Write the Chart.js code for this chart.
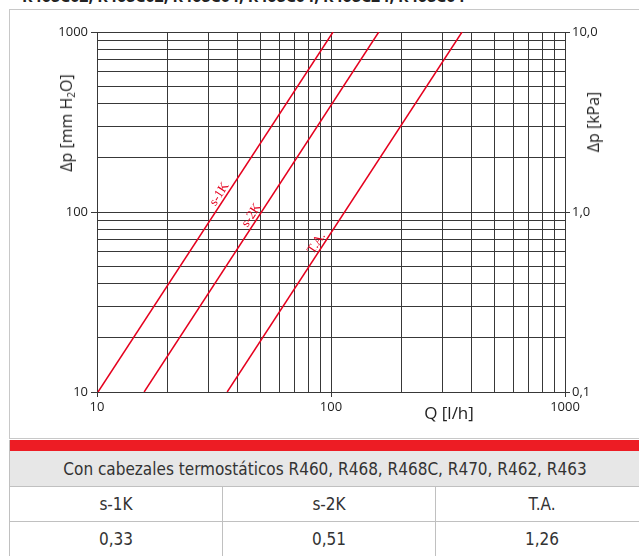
<!DOCTYPE html>
<html>
<head>
<meta charset="utf-8">
<script src="https://cdn.jsdelivr.net/npm/chart.js@4.4.1/dist/chart.umd.min.js"></script>
<style>
  html, body { margin:0; padding:0; background:#fff; }
  body { width:639px; height:556px; overflow:hidden; position:relative; font-family:"Open Sans", sans-serif; color:#222; }
  #topline { position:absolute; left:22px; top:-15px; font:bold 16px "Open Sans", sans-serif; white-space:nowrap; color:#222; }
  #box { position:absolute; left:9px; top:9px; width:640px; height:428px; border:1px solid #c8c8c8; border-right:none; background:transparent; }
  #wrap { position:absolute; left:0; top:0; width:639px; height:436px; }
  .ttl { position:absolute; font:16px "Open Sans", sans-serif; color:#222; white-space:nowrap; }
  #ytl { left:66px; top:123px; transform:translate(-50%,-50%) rotate(-90deg); }
  #ytr { left:593px; top:122px; transform:translate(-50%,-50%) rotate(-90deg); }
  #xt { left:449px; top:412px; transform:translate(-50%,-50%); font-size:17px; }
  sub { font-size:10px; vertical-align:-3px; line-height:0; }
  #tbl { position:absolute; left:9px; top:440px; width:640px; border-left:1px solid #c0c0c0; }
  #red { height:11px; background:#ed1c24; }
  .row { display:flex; border-bottom:1px solid #c0c0c0; font:17px "Liberation Sans Narrow","DejaVu Sans Condensed",sans-serif; color:#333; }
  .hdr { height:35px; background:#e7e7e7; justify-content:center; align-items:center; padding-right:10px; }
  .cell { width:212px; height:34px; display:flex; align-items:center; justify-content:center; border-right:1px solid #c0c0c0; }
</style>
</head>
<body>
<div id="topline">R468C02, R468C02, R468C04, R468C04, R468C24, R468C04</div>
<div id="box"></div>
<div id="wrap"><canvas id="c" width="639" height="436"></canvas></div>
<div class="ttl" id="ytl">Δp [mm H<sub>2</sub>O]</div>
<div class="ttl" id="ytr">Δp [kPa]</div>
<div class="ttl" id="xt">Q [l/h]</div>
<div id="tbl">
  <div id="red"></div>
  <div class="row hdr" id="hdr"></div>
  <div class="row" id="r1"></div>
  <div class="row" id="r2"></div>
</div>
<script>
// ---- data ----
const seriesNames = ['s-1K', 's-2K', 'T.A.'];
const flowS1K = [10.1, 102];
const flowS2K = [15.9, 160];
const flowTA  = [36, 363];
const pressure = [10, 1000];           // mm H2O, at the two ends of each line
const labelQ = [35.2, 48.3, 91.5];     // where the line labels sit (l/h)
const kvValues = ['0,33', '0,51', '1,26'];
const tableTitle = 'Con cabezales termostáticos R460, R468, R468C, R470, R462, R463';
const xTicks = [10,20,30,40,50,60,70,80,90,100,200,300,400,500,600,700,800,900,1000];
const yTicks = [10,20,30,40,50,60,70,80,90,100,200,300,400,500,600,700,800,900,1000];
const majorTicks = [10, 100, 1000];
const kpaTicks = [0.1, 1, 10];
const kpaLabels = ['0,1', '1,0', '10,0'];

const RED = '#e5001e';
const GRID = '#383838';

function pts(flow) { return flow.map((q, i) => ({ x: q, y: pressure[i] })); }

const lineLabels = {
  id: 'lineLabels',
  afterDatasetsDraw(chart) {
    const { ctx } = chart;
    const xs = chart.scales.x;
    chart.data.datasets.forEach((ds, i) => {
      const meta = chart.getDatasetMeta(i);
      const p0 = meta.data[0], p1 = meta.data[meta.data.length - 1];
      const px = xs.getPixelForValue(labelQ[i]);
      const t = (px - p0.x) / (p1.x - p0.x);
      const py = p0.y + t * (p1.y - p0.y);
      const ang = Math.atan2(p1.y - p0.y, p1.x - p0.x);
      ctx.save();
      ctx.translate(px, py);
      ctx.rotate(ang);
      ctx.font = '13px "Liberation Serif", serif';
      ctx.fillStyle = RED;
      ctx.textAlign = 'center';
      ctx.textBaseline = 'bottom';
      ctx.fillText(seriesNames[i], 0, 0);
      ctx.restore();
    });
  }
};

const isMajor = v => majorTicks.includes(v);

new Chart(document.getElementById('c'), {
  type: 'line',
  data: {
    datasets: [
      { label: seriesNames[0], data: pts(flowS1K) },
      { label: seriesNames[1], data: pts(flowS2K) },
      { label: seriesNames[2], data: pts(flowTA) }
    ].map(d => Object.assign(d, { borderColor: RED, borderWidth: 1.5, pointRadius: 0, fill: false, tension: 0 }))
  },
  options: {
    responsive: false,
    animation: false,
    devicePixelRatio: 1,
    layout: { padding: { top: 32, left: 0, right: 0, bottom: 0 } },
    plugins: { legend: { display: false }, tooltip: { enabled: false } },
    scales: {
      x: {
        type: 'logarithmic', min: 10, max: 1000,
        afterBuildTicks: s => { s.ticks = xTicks.map(v => ({ value: v, major: isMajor(v) })); },
        afterFit: s => { s.height = 44; },
        ticks: { autoSkip: false, maxRotation: 0, padding: 2, color: '#222', font: { family: 'Open Sans', size: 13 },
                 callback: v => isMajor(v) ? String(v) : '' },
        grid: { color: GRID, lineWidth: 1, tickLength: 5,
                tickColor: c => (c.tick && isMajor(c.tick.value)) ? GRID : 'rgba(0,0,0,0)' },
        border: { color: GRID, width: 1 }
      },
      y: {
        type: 'logarithmic', position: 'left', min: 10, max: 1000,
        afterBuildTicks: s => { s.ticks = yTicks.map(v => ({ value: v, major: isMajor(v) })); },
        afterFit: s => { s.width = 97; },
        ticks: { autoSkip: false, padding: 3, color: '#222', font: { family: 'Open Sans', size: 13 },
                 callback: v => isMajor(v) ? String(v) : '' },
        grid: { color: GRID, lineWidth: 1, tickLength: 6,
                tickColor: c => (c.tick && isMajor(c.tick.value)) ? GRID : 'rgba(0,0,0,0)' },
        border: { color: GRID, width: 1 }
      },
      y2: {
        type: 'logarithmic', position: 'right', min: 0.1, max: 10,
        afterBuildTicks: s => { s.ticks = kpaTicks.map(v => ({ value: v, major: true })); },
        afterFit: s => { s.width = 74; },
        ticks: { autoSkip: false, padding: 2, color: '#222', font: { family: 'Open Sans', size: 13 },
                 callback: (v, i) => kpaLabels[kpaTicks.indexOf(v)] ?? '' },
        grid: { drawOnChartArea: false, color: GRID, tickLength: 5, tickColor: GRID },
        border: { color: GRID, width: 1 }
      }
    }
  },
  plugins: [lineLabels]
});

// ---- table ----
document.getElementById('hdr').textContent = tableTitle;
const r1 = document.getElementById('r1'), r2 = document.getElementById('r2');
seriesNames.forEach((n, i) => {
  const a = document.createElement('div'); a.className = 'cell'; a.textContent = n; r1.appendChild(a);
  const b = document.createElement('div'); b.className = 'cell'; b.textContent = kvValues[i]; r2.appendChild(b);
});
</script>
</body>
</html>
